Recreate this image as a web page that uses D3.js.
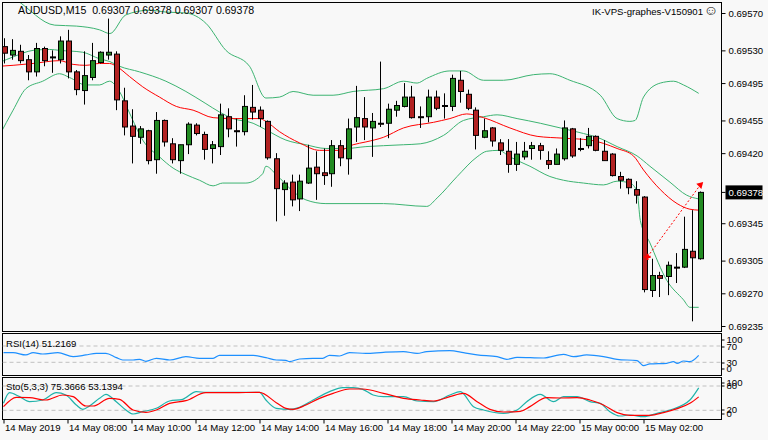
<!DOCTYPE html>
<html><head><meta charset="utf-8">
<script src="https://cdn.jsdelivr.net/npm/d3@7"></script>
<style>body{margin:0;background:#f8f8f8}svg{display:block}text{font-family:"Liberation Sans",sans-serif;font-size:9.6px;fill:#000}</style>
</head><body><svg id="c" width="768" height="440"></svg>
<script>
const symbolTitle = "AUDUSD,M15  0.69307 0.69378 0.69307 0.69378";
const brandTitle = "IK-VPS-graphes-V150901";
const openP = [0.69534,0.69525,0.69529,0.69520,0.69507,0.69532,0.69523,0.69520,0.69540,0.69507,0.69487,0.69501,0.69517,0.69525,0.69526,0.69476,0.69449,0.69437,0.69444,0.69413,0.69455,0.69430,0.69412,0.69429,0.69450,0.69440,0.69425,0.69427,0.69459,0.69444,0.69443,0.69469,0.69466,0.69454,0.69414,0.69381,0.69389,0.69371,0.69388,0.69405,0.69399,0.69398,0.69428,0.69414,0.69448,0.69457,0.69447,0.69452,0.69452,0.69466,0.69470,0.69480,0.69459,0.69459,0.69480,0.69471,0.69470,0.69498,0.69483,0.69466,0.69437,0.69447,0.69431,0.69422,0.69408,0.69416,0.69425,0.69428,0.69412,0.69408,0.69414,0.69446,0.69425,0.69428,0.69438,0.69422,0.69419,0.69395,0.69392,0.69381,0.69373,0.69273,0.69289,0.69288,0.69298,0.69298,0.69315,0.69307];
const highP = [0.69543,0.69542,0.69536,0.69525,0.69538,0.69534,0.69530,0.69545,0.69552,0.69509,0.69529,0.69538,0.69529,0.69564,0.69529,0.69490,0.69467,0.69449,0.69445,0.69464,0.69456,0.69436,0.69429,0.69453,0.69452,0.69443,0.69433,0.69473,0.69468,0.69457,0.69482,0.69493,0.69470,0.69455,0.69420,0.69391,0.69397,0.69397,0.69429,0.69422,0.69425,0.69434,0.69434,0.69457,0.69492,0.69480,0.69463,0.69518,0.69473,0.69476,0.69495,0.69492,0.69470,0.69488,0.69487,0.69484,0.69504,0.69508,0.69488,0.69469,0.69457,0.69448,0.69435,0.69435,0.69432,0.69432,0.69432,0.69431,0.69422,0.69425,0.69455,0.69447,0.69436,0.69447,0.69439,0.69434,0.69420,0.69400,0.69393,0.69390,0.69374,0.69307,0.69293,0.69304,0.69313,0.69352,0.69359,0.69379];
const lowP = [0.69516,0.69520,0.69516,0.69498,0.69502,0.69513,0.69506,0.69516,0.69500,0.69482,0.69472,0.69498,0.69516,0.69520,0.69466,0.69439,0.69409,0.69430,0.69408,0.69398,0.69427,0.69409,0.69398,0.69419,0.69439,0.69413,0.69409,0.69418,0.69437,0.69427,0.69439,0.69456,0.69448,0.69413,0.69347,0.69353,0.69363,0.69358,0.69387,0.69370,0.69386,0.69384,0.69406,0.69397,0.69432,0.69434,0.69416,0.69448,0.69436,0.69459,0.69469,0.69457,0.69447,0.69453,0.69466,0.69457,0.69465,0.69474,0.69466,0.69424,0.69436,0.69427,0.69418,0.69399,0.69401,0.69413,0.69413,0.69413,0.69403,0.69408,0.69412,0.69415,0.69422,0.69425,0.69422,0.69412,0.69395,0.69382,0.69376,0.69366,0.69271,0.69266,0.69266,0.69268,0.69281,0.69297,0.69240,0.69306];
const closeP = [0.69527,0.69530,0.69519,0.69507,0.69532,0.69519,0.69522,0.69540,0.69507,0.69488,0.69503,0.69519,0.69528,0.69528,0.69477,0.69448,0.69438,0.69446,0.69412,0.69455,0.69432,0.69413,0.69429,0.69451,0.69441,0.69424,0.69429,0.69461,0.69446,0.69443,0.69470,0.69464,0.69457,0.69415,0.69382,0.69388,0.69370,0.69390,0.69404,0.69398,0.69396,0.69428,0.69415,0.69446,0.69458,0.69448,0.69454,0.69451,0.69467,0.69471,0.69480,0.69458,0.69458,0.69480,0.69468,0.69471,0.69500,0.69486,0.69468,0.69439,0.69444,0.69433,0.69423,0.69408,0.69419,0.69422,0.69428,0.69423,0.69408,0.69419,0.69447,0.69417,0.69425,0.69438,0.69423,0.69412,0.69396,0.69391,0.69383,0.69375,0.69274,0.69289,0.69286,0.69300,0.69297,0.69317,0.69308,0.69378];
// indicator lines: [bar index, value]
const bbUpper = [[-0.5,0.69595],[1.6,0.69584],[6.4,0.69557],[9.1,0.69556],[12,0.69552],[13.3,0.69548],[15.3,0.69568],[18.25,0.69573],[20.3,0.69571],[22.8,0.69570],[25.3,0.69559],[27.8,0.69530],[30.75,0.69513],[32.8,0.69479],[34.5,0.69480],[36.2,0.69486],[38.7,0.69482],[41.2,0.69482],[43.7,0.69486],[47.5,0.69489],[50,0.69497],[51.7,0.69495],[52.9,0.69500],[55.8,0.69508],[57.5,0.69508],[60,0.69498],[62.5,0.69498],[66.25,0.69504],[68.3,0.69505],[70.8,0.69498],[74.6,0.69482],[76.7,0.69457],[78.3,0.69454],[78.95,0.69455],[80,0.69480],[82.1,0.69495],[83.75,0.69497],[85,0.69493],[86.9,0.69484]];
const bbMiddle = [[-0.5,0.69517],[1.2,0.69523],[3.7,0.69530],[5.75,0.69531],[7,0.69530],[9.9,0.69528],[12,0.69521],[13.3,0.69518],[14.5,0.69513],[17,0.69507],[20.3,0.69497],[22.8,0.69486],[25.3,0.69473],[27,0.69464],[28.7,0.69457],[31.2,0.69452],[32.8,0.69445],[35.3,0.69434],[37.8,0.69429],[40.3,0.69425],[42.8,0.69425],[45.3,0.69427],[47.5,0.69428],[50,0.69429],[52.1,0.69430],[55,0.69439],[57.5,0.69455],[60,0.69459],[61.7,0.69461],[64.2,0.69457],[67.1,0.69452],[69.6,0.69447],[72.5,0.69441],[74.2,0.69437],[76.7,0.69427],[79.2,0.69417],[80.8,0.69406],[83.3,0.69389],[85.4,0.69375],[86.9,0.69371]];
const bbLower = [[-0.5,0.69439],[1.2,0.69466],[2.8,0.69489],[4.9,0.69497],[7,0.69505],[8.25,0.69501],[10.3,0.69493],[12,0.69493],[13.25,0.69497],[14.5,0.69486],[15.75,0.69463],[17.4,0.69434],[19.5,0.69416],[21.2,0.69404],[22.8,0.69397],[24.5,0.69391],[26.2,0.69385],[27.4,0.69388],[30.3,0.69388],[32.4,0.69398],[32.8,0.69406],[34.1,0.69397],[36.2,0.69379],[37.8,0.69370],[40.3,0.69366],[47.5,0.69366],[52.9,0.69363],[54.2,0.69372],[56.7,0.69395],[59.2,0.69416],[60.4,0.69422],[61.9,0.69423],[63.3,0.69416],[65.8,0.69406],[68.3,0.69395],[70,0.69391],[72.5,0.69388],[75,0.69386],[76.7,0.69390],[78.3,0.69388],[79.2,0.69379],[79.6,0.69348],[80.8,0.69324],[82.9,0.69284],[85,0.69263],[85.8,0.69255],[86.9,0.69255]];
const maRed = [[-0.5,0.69513],[1.2,0.69514],[3.7,0.69516],[7,0.69519],[8.7,0.69515],[10.3,0.69514],[12,0.69516],[13.25,0.69516],[14.1,0.69513],[15.75,0.69502],[17.4,0.69491],[19.5,0.69480],[21.6,0.69470],[23.7,0.69466],[26.2,0.69458],[28.7,0.69457],[32,0.69457],[32.8,0.69454],[34.5,0.69443],[37,0.69431],[39.5,0.69423],[42,0.69423],[43.7,0.69429],[45.3,0.69432],[47.5,0.69437],[50,0.69447],[53.75,0.69453],[55.8,0.69457],[57.9,0.69462],[60,0.69458],[63.3,0.69447],[66.7,0.69438],[70,0.69436],[73.3,0.69434],[76.7,0.69425],[78.75,0.69417],[80,0.69402],[82.1,0.69381],[84.2,0.69366],[85.8,0.69360],[86.9,0.69359]];
const signalArrow = [[80.5,0.69309],[87.1,0.69386]];
const rsiLine = [[0,53.7],[1.2,53.7],[2.8,48],[3.7,53.7],[4.9,50.4],[6.8,53.7],[8.7,43.9],[10.3,48],[11.6,52],[12.8,52],[14.1,41.4],[14.9,35.7],[16.2,35.7],[17,37.3],[17.8,32.4],[19.1,39.8],[20.8,35.7],[22.8,43.9],[24.5,39.8],[26.2,39.8],[27,47.1],[29.5,47.1],[31.2,47.1],[32.8,41.4],[34.1,35.7],[35.3,34.9],[35.75,31.6],[37,38.1],[38.7,39.8],[39.9,39.8],[40.75,47.1],[42,45.5],[43.25,53.7],[45.3,52],[47.5,54.5],[50,56.1],[51.7,52],[52.9,56.1],[55.8,58.6],[57.5,53.7],[59.2,48],[61.7,43.9],[62.9,37.3],[64.2,42.2],[67.5,40.6],[70,49.6],[71.25,43.9],[72.9,48],[75,43.9],[76.7,37.3],[79.2,34.1],[80,21.8],[80.8,25.9],[82.9,27.5],[83.75,31.6],[84.2,27.5],[85,33.2],[85.8,31.6],[86.9,47.1]];
const stoMain = [[0,37.2],[0.75,63.5],[2,53.7],[3.25,41.3],[4.9,45.4],[6.6,63.5],[7.8,57.8],[9.1,33.1],[9.9,22.4],[10.75,30.6],[12,49.5],[12.8,59.4],[14.1,41.3],[15.3,20.7],[16.2,10.9],[17.4,16.6],[19.1,24.9],[20.75,43],[22.4,47.1],[24.1,66],[25.3,64.4],[27.8,64.4],[30.3,64.4],[32,64.4],[32.8,45.4],[34.1,24.9],[35.75,22.4],[37,27.3],[38.7,45.4],[40.75,66],[42.4,75.9],[43.7,75.9],[44.9,71.8],[46.2,57.8],[47.5,53.7],[50,53.7],[51.7,43],[53.75,41.3],[55.8,57.8],[57.1,66],[58.75,29],[60,20.7],[62.5,12.5],[64.2,20.7],[65.4,41.3],[67.1,59.4],[68.75,41.3],[70,53.7],[71.7,53.7],[73.3,41.3],[74.6,37.2],[75.8,16.6],[77.1,5.9],[78.3,8.4],[80,4.3],[81.7,12.5],[83.3,20.7],[85.8,45.4],[86.9,75.4]];
const stoSignal = [[0,29],[1.6,52],[3.25,51.2],[5.3,45.4],[7.4,57.8],[8.7,53.7],[10.3,30.6],[11.2,30.6],[13.25,49.5],[14.5,47.1],[16.2,20.7],[17.8,15],[19.1,20.7],[20.75,37.2],[22.8,43.8],[25.3,63.5],[28.7,63.5],[32,64.4],[34.1,38.9],[35.3,24.9],[36.2,22.4],[37.8,33.1],[39.5,49.5],[41.2,61.9],[43.25,72.6],[44.9,72.6],[47.5,61.9],[50,49.5],[52.1,45.4],[53.75,43],[55.8,53.7],[57.5,61.9],[59.2,41.3],[60.8,22.4],[62.5,15.8],[64.6,17.5],[65.8,29],[67.9,51.2],[69.6,50.4],[71.7,51.2],[73.3,45.4],[75,33.1],[76.7,14.2],[78.3,7.6],[80.8,7.6],[82.5,14.2],[84.2,24],[85.8,37.2],[86.9,53.1]];
const priceTicks = [0.69570,0.69530,0.69495,0.69455,0.69420,0.69345,0.69305,0.69270,0.69235];
const lastPrice = 0.69378;
const rsiTicks = [100,70,30,0];
const rsiLevels = [70,30];
const stoTicks = [100,80,20,0];
const stoLevels = [80,20];
const timeTickBars = [0,8,16,24,32,40,48,56,64,72,80];
const timeLabels = ["14 May 2019","14 May 08:00","14 May 10:00","14 May 12:00","14 May 14:00","14 May 16:00","14 May 18:00","14 May 20:00","14 May 22:00","15 May 00:00","15 May 02:00"];
const rsiTitle = "RSI(14) 51.2169";
const stoTitle = "Sto(5,3,3) 75.3666 53.1394";

const svg = d3.select("#c");
const L = 2.5, R = 721.5;
const main = {t:2.5,b:331.5}, rsiP = {t:333.5,b:375.5}, stoP = {t:377.5,b:419.5};
const x = d3.scaleLinear().domain([0,87]).range([3.5,699.5]);
const y = d3.scaleLinear().domain([0.69235,0.69570]).range([326,13]);
const yR2 = d3.scaleLinear().domain([30,70]).range([362.3,346]);
const yS = d3.scaleLinear().domain([20,80]).range([410.3,386]);

svg.append("rect").attr("width",768).attr("height",440).attr("fill","#f8f8f8");
const defs = svg.append("defs");
defs.append("clipPath").attr("id","cm").append("rect").attr("x",L).attr("y",main.t).attr("width",R-L).attr("height",main.b-main.t);
defs.append("clipPath").attr("id","cr").append("rect").attr("x",L).attr("y",rsiP.t).attr("width",R-L).attr("height",rsiP.b-rsiP.t);
defs.append("clipPath").attr("id","cs").append("rect").attr("x",L).attr("y",stoP.t).attr("width",R-L).attr("height",stoP.b-stoP.t);

const gm = svg.append("g").attr("clip-path","url(#cm)");
const line = (ys)=>d3.line().x(d=>x(d[0])).y(d=>ys(d[1])).curve(d3.curveMonotoneX);
[bbUpper,bbMiddle,bbLower].forEach(a=>gm.append("path").attr("d",line(y)(a)).attr("fill","none").attr("stroke","#3cb371").attr("stroke-width",1));
gm.append("path").attr("d",line(y)(maRed)).attr("fill","none").attr("stroke","#ff0000").attr("stroke-width",1);

const idx = d3.range(openP.length);
gm.selectAll(".wick").data(idx).join("line").attr("x1",i=>Math.round(x(i))+0.5).attr("x2",i=>Math.round(x(i))+0.5)
  .attr("y1",i=>y(highP[i])).attr("y2",i=>y(lowP[i])).attr("stroke","#000");
gm.selectAll(".body").data(idx).join("rect")
  .attr("x",i=>Math.round(x(i))-2+0.5).attr("width",5)
  .attr("y",i=>Math.min(y(openP[i]),y(closeP[i])))
  .attr("height",i=>Math.max(1,Math.abs(y(openP[i])-y(closeP[i]))))
  .attr("fill",i=>closeP[i]>=openP[i]?"#228b22":"#b22222").attr("stroke","#000");

gm.append("line").attr("x1",x(signalArrow[0][0])).attr("y1",y(signalArrow[0][1])).attr("x2",x(signalArrow[1][0])).attr("y2",y(signalArrow[1][1]))
  .attr("stroke","#ff0000").attr("stroke-dasharray","2,2");
gm.append("path").attr("d",d3.symbol(d3.symbolCross,22)()).attr("transform",`translate(${x(signalArrow[0][0])},${y(signalArrow[0][1])})`).attr("fill","#ff0000");
gm.append("path").attr("d",d3.symbol(d3.symbolTriangle,22)()).attr("transform",`translate(${x(signalArrow[1][0])},${y(signalArrow[1][1])}) rotate(45)`).attr("fill","#ff0000");

[main,rsiP,stoP].forEach(p=>svg.append("rect").attr("x",L).attr("y",p.t).attr("width",R-L).attr("height",p.b-p.t).attr("fill","none").attr("stroke","#000"));

const ay = svg.append("g").attr("transform",`translate(${R},0)`).call(d3.axisRight(y).tickValues(priceTicks).tickFormat(d3.format(".5f")).tickSize(4).tickPadding(3));
ay.select(".domain").remove();
ay.selectAll("text").style("font-size","9.6px").style("font-family","Liberation Sans");
const lp = svg.append("g").attr("transform",`translate(${R},${y(lastPrice)})`);
lp.append("line").attr("x2",4).attr("stroke","#000");
lp.append("rect").attr("x",4).attr("y",-7).attr("width",37).attr("height",14).attr("fill","#000");
lp.append("text").attr("x",7).attr("dy","0.35em").style("fill","#fff").text(d3.format(".5f")(lastPrice));

const gr = svg.append("g").attr("clip-path","url(#cr)");
rsiLevels.forEach(v=>gr.append("line").attr("x1",L).attr("x2",R).attr("y1",yR2(v)).attr("y2",yR2(v)).attr("stroke","#c0c0c0").attr("stroke-dasharray","4,3"));
gr.append("path").attr("d",line(yR2)(rsiLine)).attr("fill","none").attr("stroke","#1e90ff").attr("stroke-width",1.2);
svg.append("text").attr("x",6).attr("y",347).text(rsiTitle);
const rsiTickY = {100:340,70:347,30:363,0:369};
const ar = svg.append("g").attr("transform",`translate(${R},0)`);
rsiTicks.forEach(v=>{ar.append("line").attr("y1",rsiTickY[v]).attr("y2",rsiTickY[v]).attr("x2",3).attr("stroke","#000");
  ar.append("text").attr("x",5).attr("y",rsiTickY[v]).attr("dy","0.35em").text(v);});

const gs = svg.append("g").attr("clip-path","url(#cs)");
stoLevels.forEach(v=>gs.append("line").attr("x1",L).attr("x2",R).attr("y1",yS(v)).attr("y2",yS(v)).attr("stroke","#c0c0c0").attr("stroke-dasharray","4,3"));
gs.append("path").attr("d",line(yS)(stoMain)).attr("fill","none").attr("stroke","#20b2aa").attr("stroke-width",1.2);
gs.append("path").attr("d",line(yS)(stoSignal)).attr("fill","none").attr("stroke","#ff0000").attr("stroke-width",1.2);
svg.append("text").attr("x",6).attr("y",390).text(stoTitle);
const stoTickY = {100:383,80:386,20:410,0:414};
stoTicks.forEach(v=>{ar.append("line").attr("y1",stoTickY[v]).attr("y2",stoTickY[v]).attr("x2",3).attr("stroke","#000");
  ar.append("text").attr("x",5).attr("y",stoTickY[v]).attr("dy","0.35em").text(v);});

const ax = svg.append("g").attr("transform",`translate(0,${stoP.b})`).call(d3.axisBottom(x).tickValues(timeTickBars).tickFormat((d,i)=>timeLabels[i]).tickSize(4));
ax.select(".domain").remove();
ax.selectAll("text").attr("text-anchor","start").attr("x",1).attr("y",5).style("font-size","9.6px").style("font-family","Liberation Sans");

svg.append("text").attr("x",18).attr("y",14).style("font-size","10.6px").style("white-space","pre").text(symbolTitle);
svg.append("text").attr("x",703).attr("y",15).attr("text-anchor","end").text(brandTitle);
svg.append("text").attr("x",711).attr("y",15).attr("text-anchor","middle").style("font-size","14px").text("☺");
</script></body></html>
